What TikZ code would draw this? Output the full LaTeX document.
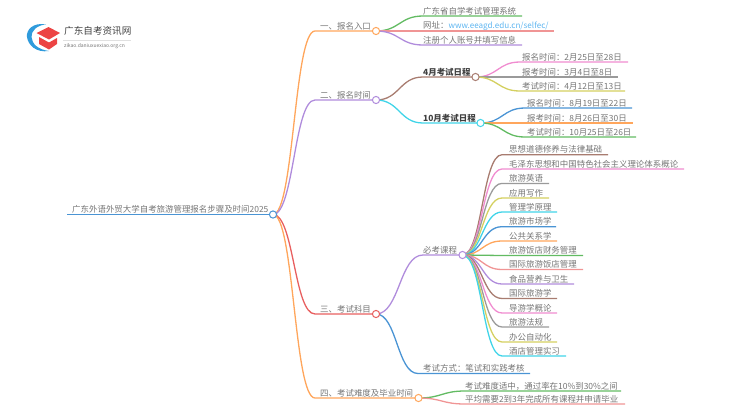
\documentclass[tikz,border=0pt]{standalone}
\usepackage{fontspec}
\setmainfont{Noto Sans CJK SC}
\usepackage{xcolor}
\usetikzlibrary{calc,backgrounds}
\definecolor{cblue}{HTML}{4A94D4}
\definecolor{corange}{HTML}{FFA65C}
\definecolor{cgreen}{HTML}{62BB62}
\definecolor{cred}{HTML}{E85F5F}
\definecolor{cpale}{HTML}{F09595}
\definecolor{cpurple}{HTML}{B08CDC}
\definecolor{cbrown}{HTML}{A87C70}
\definecolor{cpink}{HTML}{F08CD0}
\definecolor{cgray}{HTML}{9A9A9A}
\definecolor{cyellow}{HTML}{D4D060}
\definecolor{ccyan}{HTML}{40D4E8}
\definecolor{ctext}{HTML}{757575}
\definecolor{clink}{HTML}{5DB5F0}
\definecolor{clogoblue}{HTML}{2F9BDC}
\definecolor{clogored}{HTML}{EC4444}
\tikzset{
	dot/.style={circle,draw,fill=white,line width=1pt,minimum size=7.2pt,inner sep=0pt},
	lbl/.style={anchor=west,inner sep=0pt,text=ctext,font=\fontsize{8.45}{10}\selectfont},
	bold/.style={lbl,text=black!75,font=\fontsize{8.45}{10}\selectfont\bfseries},
	link/.style={line width=1.3pt,to path={let \p1=(\tikztostart),\p2=(\tikztotarget),\n1={(\x1+\x2)/2} in .. controls (\n1,\y1) and (\n1,\y2) .. (\tikztotarget)}}
}
\begin{document}
\begin{tikzpicture}[x=1pt,y=-1pt]
\useasboundingbox (0,0) rectangle (750,410);
% logo
\fill[clogoblue] (46,24.5) .. controls (33,22) and (26,30) .. (27,37) .. controls (28,45) and (36,53) .. (49,51) .. controls (38,49.5) and (32,44) .. (31.5,37) .. controls (31,31) and (37,25) .. (46,24.5);
\fill[clogored] (36.5,33)--(48.5,27)--(60,33)--(49,39.5)--cycle;
\fill[clogored] (39,37)--(49,42.5)--(57,38)--(57,44)--(49,49.5)--(39,44)--cycle;
\node[inner sep=0pt,anchor=west,text=black!75,font=\fontsize{9.6}{10}\selectfont] (logotitle) at (64,31) {广东自考资讯网};
\draw[black!12,line width=0.4pt] (63,40.5)--(131,40.5);
\node[inner sep=0pt,anchor=west,text=ctext,font=\fontsize{5}{6}\selectfont] (logourl) at (64,46.5) {zikao.daniuxuexiao.org.cn};
% hubs
\node[dot,draw=cblue] (root) at (273,214.5) {};
\node[dot,draw=corange] (one) at (376,31) {};
\node[dot,draw=cpurple] (two) at (376,100) {};
\node[dot,draw=cred] (three) at (376,314) {};
\node[dot,draw=corange] (four) at (418.5,398) {};
\node[dot,draw=cbrown] (april) at (475.5,77) {};
\node[dot,draw=ccyan] (october) at (480.5,123) {};
\node[dot,draw=cpurple] (must) at (462.5,255) {};
% titles
\node[lbl] (roottext) at (72,209) {广东外语外贸大学自考旅游管理报名步骤及时间2025};
\node[lbl] (onetext) at (320,26) {一、报名入口};
\node[lbl] (twotext) at (320,95) {二、报名时间};
\node[lbl] (threetext) at (320,309) {三、考试科目};
\node[lbl] (fourtext) at (320,393) {四、考试难度及毕业时间};
\node[bold] (apriltext) at (423,72) {4月考试日程};
\node[bold] (octobertext) at (423,118) {10月考试日程};
\node[lbl] (musttext) at (423,250) {必考课程};
\node[lbl] (waytext) at (423,368) {考试方式：笔试和实践考核};
\begin{scope}[on background layer]
\coordinate (rootleft) at (67,214.5);
\draw[cblue,line width=1.3pt] (rootleft)--(root.center);
\coordinate (onebend) at (315,31);
\coordinate (twobend) at (315,100);
\coordinate (threebend) at (315,314);
\coordinate (fourbend) at (315,398);
\draw[link,corange] (root.center) to (onebend) -- (one.center);
\draw[link,cpurple] (root.center) to (twobend) -- (two.center);
\draw[link,cred] (root.center) to (threebend) -- (three.center);
\draw[link,corange] (root.center) to (fourbend) -- (four.center);
\coordinate (aprilbend) at (423,77);
\coordinate (octoberbend) at (423,123);
\coordinate (mustbend) at (423,255);
\coordinate (waybend) at (418,373.5);
\coordinate (wayend) at (530,373.5);
\draw[link,cbrown] (two.center) to (aprilbend) -- (april.center);
\draw[link,ccyan] (two.center) to (octoberbend) -- (october.center);
\draw[link,cpurple] (three.center) to (mustbend) -- (must.center);
\draw[link,cblue] (three.center) to (waybend) -- (wayend);
\end{scope}
% first branch
\foreach\y/\xend/\col/\txt [count=\i] in {16/522/cgreen/广东省自学考试管理系统,31/554/cpale/{网址：\textcolor{clink}{\fontsize{8.1}{10}\selectfont www.eeagd.edu.cn/selfec/}},45/522/cpurple/注册个人账号并填写信息}{
	\node[lbl] (onetext\i) at (423,\y-5) {\txt};
	\coordinate (onea\i) at (423,\y);
	\coordinate (oneb\i) at (\xend,\y);
	\begin{scope}[on background layer]
	\draw[link,\col] (one.center) to (onea\i) -- (oneb\i);
	\end{scope}
}
% april
\foreach\y/\xend/\col/\txt [count=\i] in {62/628/cpink/报名时间：2月25日至28日,77/618/cgray/报考时间：3月4日至8日,91/625/cyellow/考试时间：4月12日至13日}{
	\node[lbl] (aprtext\i) at (522,\y-5) {\txt};
	\coordinate (apra\i) at (520,\y);
	\coordinate (aprb\i) at (\xend,\y);
	\begin{scope}[on background layer]
	\draw[link,\col] (april.center) to (apra\i) -- (aprb\i);
	\end{scope}
}
% october
\foreach\y/\xend/\col/\txt [count=\i] in {108/632/cblue/报名时间：8月19日至22日,123/633/corange/报考时间：8月26日至30日,137/636/cgreen/考试时间：10月25日至26日}{
	\node[lbl] (octtext\i) at (527,\y-5) {\txt};
	\coordinate (octa\i) at (525,\y);
	\coordinate (octb\i) at (\xend,\y);
	\begin{scope}[on background layer]
	\draw[link,\col] (october.center) to (octa\i) -- (octb\i);
	\end{scope}
}
% courses
\foreach\y/\xend/\col/\txt [count=\i] in {
	154.7/608/cbrown/思想道德修养与法律基础,
	169/684/cpink/毛泽东思想和中国特色社会主义理论体系概论,
	183.4/549/cgray/旅游英语,
	198/549/cyellow/应用写作,
	212/557/ccyan/管理学原理,
	226.7/556/cblue/旅游市场学,
	241/557/corange/公共关系学,
	255.5/583/cgreen/旅游饭店财务管理,
	269.5/583/cpale/国际旅游饭店管理,
	284/574/cpurple/食品营养与卫生,
	298.5/557/cbrown/国际旅游学,
	313/557/cpink/导游学概论,
	327/549/cgray/旅游法规,
	342/557/cyellow/办公自动化,
	356/566/ccyan/酒店管理实习}{
	\node[lbl] (coursetext\i) at (509,\y-5) {\txt};
	\coordinate (coursea\i) at (502,\y);
	\coordinate (courseb\i) at (\xend,\y);
	\begin{scope}[on background layer]
	\draw[link,\col] (must.center) to (coursea\i) -- (courseb\i);
	\end{scope}
}
% fourth branch
\foreach\y/\xend/\col/\txt [count=\i] in {391/621/cgreen/考试难度适中，通过率在10\%到30\%之间,404/625/cpale/平均需要2到3年完成所有课程并申请毕业}{
	\node[lbl] (fourtext\i) at (465,\y-5) {\txt};
	\coordinate (foura\i) at (465,\y);
	\coordinate (fourb\i) at (\xend,\y);
	\begin{scope}[on background layer]
	\draw[link,\col] (four.center) to (foura\i) -- (fourb\i);
	\end{scope}
}
\end{tikzpicture}
\end{document}
